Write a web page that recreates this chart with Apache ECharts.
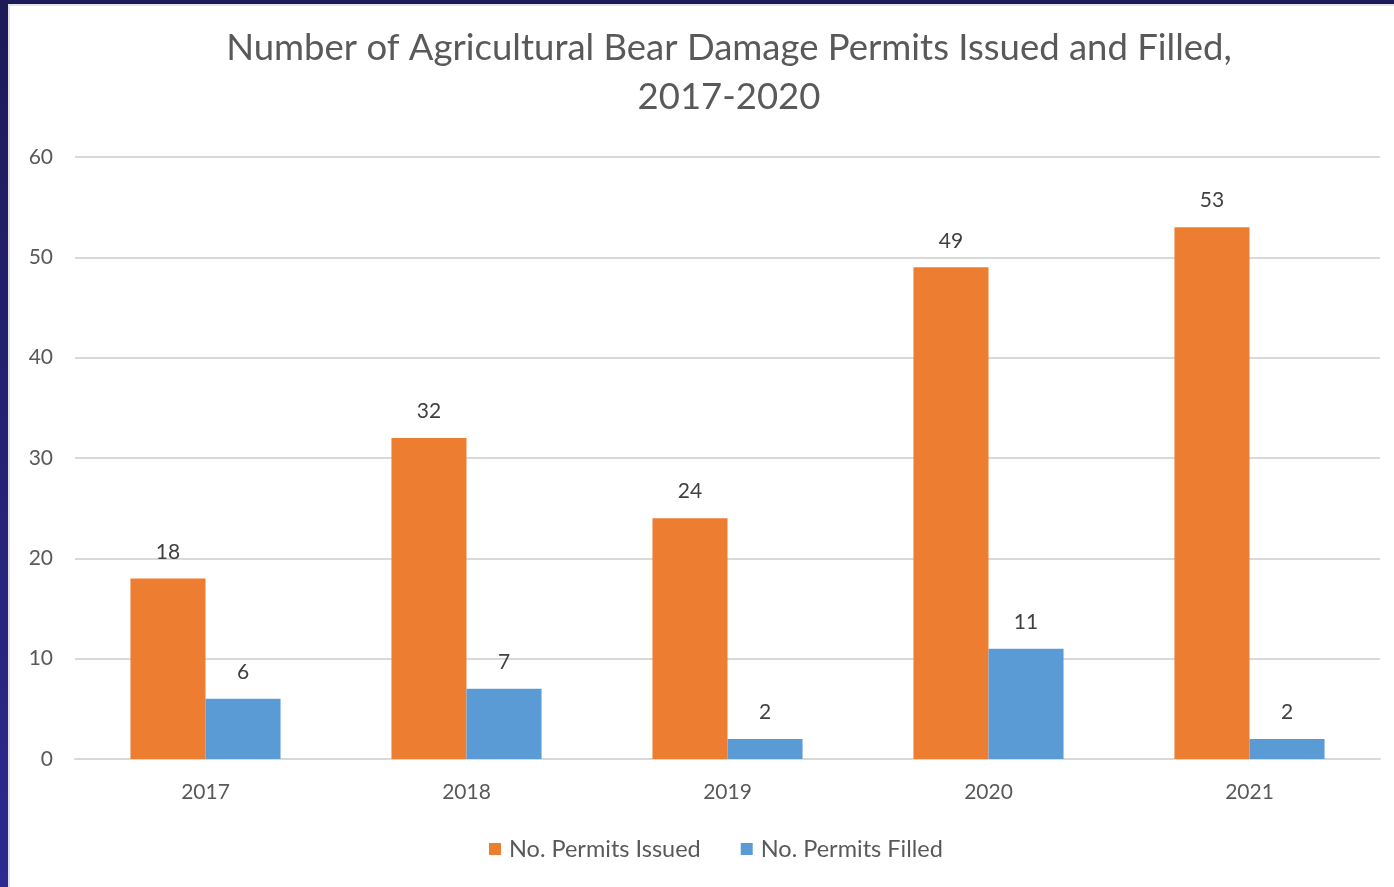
<!DOCTYPE html>
<html>
<head>
<meta charset="utf-8">
<script src="https://cdn.jsdelivr.net/npm/echarts@6/dist/echarts.min.js"></script>
<style>
html,body{margin:0;padding:0;width:1394px;height:887px;overflow:hidden;}
body{background:linear-gradient(to bottom,#1d1a58,#2d2a90);}
#panel{position:absolute;left:8px;top:4px;width:1386px;height:883px;background:#fff;border-left:2px solid #e3e3e3;border-top:2px solid #e3e3e3;box-sizing:border-box;}
#chart{position:absolute;left:0;top:0;width:1394px;height:887px;}
</style>
</head>
<body>
<div id="panel"></div>
<div id="chart"></div>
<script>
const categories = ['2017','2018','2019','2020','2021'];
const permitsIssued = [18, 32, 24, 49, 53];
const permitsFilled = [6, 7, 2, 11, 2];
const seriesNames = ['No. Permits Issued', 'No. Permits Filled'];
const titleText = 'Number of Agricultural Bear Damage Permits Issued and Filled,\n2017-2020';

const FONT = 'Lato';
const chart = echarts.init(document.getElementById('chart'), null, {renderer:'canvas'});
chart.setOption({
  backgroundColor: 'transparent',
  animation: false,
  title: {
    text: titleText,
    left: 724, top: 19, textAlign: 'center',
    textStyle: {fontFamily: FONT, fontSize: 36.5, fontWeight: 'normal', color: '#595959', lineHeight: 49}
  },
  legend: {
    data: seriesNames,
    left: 484, top: 832,
    itemWidth: 12, itemHeight: 12, itemGap: 40,
    icon: 'rect',
    textStyle: {fontFamily: FONT, fontSize: 23.5, color: '#595959', padding: [0,0,0,3]}
  },
  grid: {left: 75, right: 14, top: 157, bottom: 128, containLabel: false},
  xAxis: {
    type: 'category', data: categories,
    axisLine: {lineStyle: {color: '#d9d9d9', width: 2}},
    axisTick: {show: false},
    axisLabel: {fontFamily: FONT, fontSize: 21, color: '#595959', margin: 23}
  },
  yAxis: {
    type: 'value', min: 0, max: 60, interval: 10,
    axisLine: {show: false}, axisTick: {show: false},
    splitLine: {lineStyle: {color: '#d9d9d9', width: 2}},
    axisLabel: {fontFamily: FONT, fontSize: 21, color: '#595959', margin: 22}
  },
  series: [
    {
      name: seriesNames[0], type: 'bar', data: permitsIssued,
      barGap: '0%', barCategoryGap: '42.5%',
      itemStyle: {color: '#ED7D31'},
      label: {show: true, position: 'top', distance: 16, fontFamily: FONT, fontSize: 21, color: '#404040'}
    },
    {
      name: seriesNames[1], type: 'bar', data: permitsFilled,
      barGap: '0%', barCategoryGap: '42.5%',
      itemStyle: {color: '#5B9BD5'},
      label: {show: true, position: 'top', distance: 16, fontFamily: FONT, fontSize: 21, color: '#404040'}
    }
  ]
});
</script>
</body>
</html>
